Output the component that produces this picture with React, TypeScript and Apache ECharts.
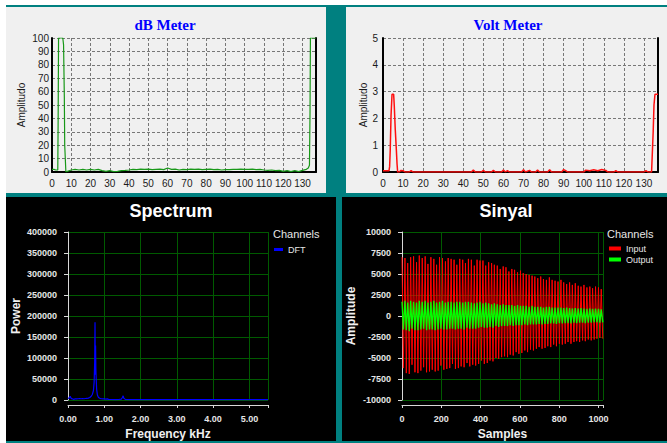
import React, { useEffect, useRef } from "react";
import * as echarts from "echarts";

// ---------- data ----------
const dbMeterPoints: [number, number][] = [
  [0, 2], [1, 2], [2, 1.5], [3, 1.5], [3.2, 42], [3.4, 100], [5.6, 100], [6.0, 95], [6.4, 56], [6.6, 20], [7.2, 0],
  [8, 0.5], [10, 1.5], [12, 2], [14, 1.5], [16, 2], [18, 1.5], [20, 2], [22, 1.5], [24, 2], [26, 1], [28, 0.5],
  [30, 1], [32, 0.3], [34, 0.5], [36, 1], [38, 1.2], [40, 1.5], [42, 2], [44, 1.8], [46, 2.2], [48, 2], [50, 2.2],
  [52, 1.8], [54, 2], [56, 2.2], [58, 1.8], [60, 3], [62, 2], [64, 2.2], [66, 1.5], [68, 2], [70, 1.8], [72, 2.2],
  [74, 2], [76, 2.2], [78, 1.8], [80, 2], [82, 2.2], [84, 1.8], [86, 2], [88, 1.5], [90, 1.8], [92, 1.8], [94, 2],
  [96, 2], [98, 2.2], [100, 2], [102, 2], [104, 2.2], [106, 1.8], [108, 2], [110, 1.5], [112, 1.2], [114, 1.5],
  [116, 1], [118, 1.2], [120, 0.5], [122, 1], [124, 0.3], [126, 1], [128, 0.3], [130, 1.2], [132, 2], [133, 3],
  [133.6, 5], [133.9, 45], [134.1, 100], [137, 100],
];

const voltMeterPoints: [number, number][] = [
  [0, 0.05], [3.0, 0.05], [3.3, 0.2], [3.6, 0.8], [4.0, 2.1], [4.5, 2.9], [5.3, 2.9], [5.6, 2.5], [6.1, 1.6],
  [6.6, 0.9], [7.0, 0.3], [7.3, 0], [8, 0], [9, 0.06], [10, 0.05], [11, 0], [13, 0], [14, 0.05], [15, 0],
  [44, 0], [45, 0.07], [46, 0], [49, 0], [50, 0.06], [51, 0], [54, 0], [55, 0.06], [56, 0], [59, 0], [60, 0.07],
  [61, 0], [62, 0.05], [63, 0], [69, 0], [70, 0.08], [71, 0], [73, 0.06], [74, 0], [76, 0], [77, 0.07], [78, 0],
  [82, 0], [83, 0.08], [84, 0], [89, 0], [90, 0.09], [91, 0.05], [92, 0], [100, 0], [101, 0.07], [103, 0.05],
  [105, 0.08], [107, 0.05], [109, 0.09], [111, 0.06], [112, 0], [115, 0], [116, 0.05], [117, 0], [130, 0],
  [131, 0.05], [132, 0], [133.8, 0], [134.6, 1.5], [135, 2.5], [135.5, 2.9], [137, 2.9],
];

const spectrumPoints: [number, number][] = [
  [0, 3000], [0.02, 4500], [0.04, 6000], [0.06, 9000], [0.08, 5000], [0.1, 3000], [0.13, 2500], [0.16, 1500],
  [0.2, 3000], [0.24, 2500], [0.28, 3000], [0.32, 3500], [0.36, 3000], [0.4, 3500], [0.44, 3000], [0.48, 3500],
  [0.52, 4000], [0.56, 4500], [0.6, 6000], [0.64, 9000], [0.67, 13000], [0.7, 22000], [0.72, 42000],
  [0.735, 90000], [0.745, 185000], [0.752, 60000], [0.76, 130000], [0.768, 75000], [0.778, 48000],
  [0.79, 25000], [0.81, 12000], [0.84, 6000], [0.88, 4000], [0.92, 3000], [0.96, 2500], [1.0, 3000],
  [1.04, 2000], [1.08, 2500], [1.12, 1500], [1.2, 1200], [1.3, 1000], [1.4, 1200], [1.47, 2000], [1.5, 6000],
  [1.52, 10000], [1.54, 4000], [1.58, 1500], [1.7, 1000], [2.0, 900], [2.5, 800], [3.0, 800], [3.5, 800],
  [4.0, 800], [4.5, 800], [5.0, 800], [5.5125, 800],
];

const sinyalSamples: number[] = [
  0, 7, 15, 22, 29, 37, 44, 51, 59, 66,
  74, 81, 88, 96, 103, 110, 118, 125, 132, 140,
  147, 154, 162, 169, 176, 184, 191, 198, 206, 213,
  221, 228, 235, 243, 250, 257, 265, 272, 279, 287,
  294, 301, 309, 316, 323, 331, 338, 345, 353, 360,
  368, 375, 382, 390, 397, 404, 412, 419, 426, 434,
  441, 448, 456, 463, 470, 478, 485, 492, 500, 507,
  515, 522, 529, 537, 544, 551, 559, 566, 573, 581,
  588, 595, 603, 610, 617, 625, 632, 639, 647, 654,
  662, 669, 676, 684, 691, 698, 706, 713, 720, 728,
  735, 742, 750, 757, 764, 772, 779, 786, 794, 801,
  809, 816, 823, 831, 838, 845, 853, 860, 867, 875,
  882, 889, 897, 904, 911, 919, 926, 933, 941, 948,
  956, 963, 970, 978, 985, 992, 1000, 1007, 1014, 1022,
];

const sinyalInput: number[] = [
  7000, -6200, 6900, -6800, 6300, -6900, 7000, -5800, 7100, -6700,
  6400, -6800, 7200, -6500, 6900, -6100, 7100, -6700, 6200, -6600,
  7000, -6400, 6800, -6600, 6100, -6500, 7000, -5900, 6900, -6400,
  6500, -6300, 6900, -6200, 6800, -5700, 6700, -6300, 6100, -6200,
  6800, -6000, 6700, -6100, 6300, -5600, 6800, -6000, 6700, -5800,
  6000, -5900, 6700, -5700, 6600, -5300, 6600, -5700, 6000, -5600,
  6400, -5300, 6300, -5400, 6100, -5000, 6000, -5100, 5600, -4900,
  5900, -4800, 5800, -4900, 5300, -4600, 5600, -4700, 5500, -4300,
  5200, -4500, 5400, -4400, 5100, -4100, 5000, -4300, 4900, -4000,
  4800, -4100, 4700, -3900, 4500, -3700, 4700, -3900, 4400, -3800,
  4300, -3600, 4600, -3700, 4300, -3400, 4200, -3600, 4100, -3300,
  4300, -3400, 4000, -3300, 3800, -3100, 4000, -3300, 3700, -3100,
  3900, -3000, 3600, -3100, 3500, -2900, 3700, -3000, 3400, -2800,
  3500, -2900, 3300, -2800, 3500, -2700, 3400, -2600, 3200, -2700,
];

const sinyalOutput: number[] = [
  1700, -1600, 1800, -1700, 1600, -1800, 1800, -1500, 1700, -1700,
  1600, -1700, 1800, -1600, 1700, -1500, 1800, -1700, 1600, -1600,
  1700, -1600, 1800, -1700, 1600, -1600, 1700, -1500, 1800, -1600,
  1600, -1600, 1700, -1500, 1700, -1500, 1600, -1600, 1700, -1500,
  1700, -1500, 1600, -1600, 1700, -1400, 1700, -1500, 1600, -1500,
  1500, -1500, 1600, -1400, 1700, -1300, 1500, -1400, 1600, -1400,
  1500, -1300, 1400, -1400, 1500, -1200, 1400, -1300, 1300, -1200,
  1400, -1200, 1300, -1200, 1300, -1100, 1300, -1200, 1200, -1100,
  1300, -1100, 1200, -1100, 1200, -1000, 1200, -1100, 1100, -1000,
  1200, -1000, 1100, -1000, 1100, -950, 1100, -1000, 1000, -950,
  1100, -950, 1100, -900, 1000, -900, 1000, -950, 1000, -850,
  1000, -900, 950, -850, 1000, -850, 950, -900, 900, -800,
  950, -850, 900, -800, 950, -800, 900, -850, 850, -800,
  900, -800, 850, -750, 900, -750, 850, -800, 800, -750,
];

const titles = ["dB Meter", "Volt Meter", "Spectrum", "Sinyal"];

// ---------- styles ----------
const SANS = "'Liberation Sans', Arial, sans-serif";
const SERIF = "'Liberation Serif', 'Times New Roman', serif";
const TEAL = "#008080";
const PANEL = "#f0f0f0";

export default function App() {
  const ref = useRef<HTMLDivElement>(null);

  useEffect(() => {
    document.body.style.margin = "0";
    const chart = echarts.init(ref.current!, undefined, { renderer: "svg" });

    const plain = (v: number) => String(v);
    const topLabel = { color: "#1a1a1a", fontSize: 10, fontFamily: SANS };
    const dashed = { show: true, lineStyle: { color: "#777", type: [3, 2], width: 1 } };
    const blackLine = { show: true, onZero: false, lineStyle: { color: "#000", width: 2 } };
    const botLabel = { color: "#e6e6e6", fontSize: 9, fontWeight: "bold", fontFamily: SANS };
    const greenSplit = { show: true, lineStyle: { color: "#005a00", width: 1 } };
    const whiteLine = { show: true, onZero: false, lineStyle: { color: "#d8d8d8", width: 1 } };
    const whiteTick = { show: true, length: 4, lineStyle: { color: "#d8d8d8" } };
    const botName = { color: "#f0f0f0", fontSize: 12, fontWeight: "bold", fontFamily: SANS };
    const topName = { color: "#1a1a1a", fontSize: 10, fontFamily: SANS };

    const frameAxis = (gridIndex: number) => ({
      gridIndex,
      type: "value",
      position: "right",
      min: 0,
      max: 1,
      axisLine: blackLine,
      axisTick: { show: false },
      axisLabel: { show: false },
      splitLine: { show: false },
    });

    chart.setOption({
      animation: false,
      grid: [
        { left: 52, top: 38, width: 264, height: 134 },
        { left: 383, top: 38, width: 275, height: 134 },
        { left: 68, top: 232, width: 200, height: 168 },
        { left: 402, top: 232, width: 201, height: 168 },
      ],
      xAxis: [
        {
          gridIndex: 0, type: "value", min: 0, max: 137, interval: 10,
          axisLine: blackLine, axisTick: { show: false }, splitLine: dashed,
          axisLabel: { ...topLabel, margin: 6, formatter: (v: number) => (v % 10 === 0 ? String(v) : "") },
        },
        {
          gridIndex: 1, type: "value", min: 0, max: 137, interval: 10,
          axisLine: blackLine, axisTick: { show: false }, splitLine: dashed,
          axisLabel: { ...topLabel, margin: 6, formatter: (v: number) => (v % 10 === 0 ? String(v) : "") },
        },
        {
          gridIndex: 2, type: "value", min: 0, max: 5.5125, interval: 1, offset: 5,
          axisLine: whiteLine, axisTick: { ...whiteTick, length: 3 }, splitLine: greenSplit,
          axisLabel: {
            ...botLabel, margin: 9,
            formatter: (v: number) => (Math.abs(v - Math.round(v)) < 1e-6 ? v.toFixed(2) : ""),
          },
          name: "Frequency kHz", nameLocation: "middle", nameGap: 23, nameTextStyle: botName,
        },
        {
          gridIndex: 3, type: "value", min: 0, max: 1023, interval: 200, offset: 5, z: 3,
          axisLine: whiteLine, axisTick: { ...whiteTick, length: 3 }, splitLine: greenSplit,
          axisLabel: { ...botLabel, margin: 9, formatter: (v: number) => (v % 200 === 0 ? String(v) : "") },
          name: "Samples", nameLocation: "middle", nameGap: 23, nameTextStyle: botName,
        },
      ],
      yAxis: [
        {
          gridIndex: 0, type: "value", min: 0, max: 100, interval: 10,
          axisLine: blackLine, axisTick: { show: false }, splitLine: dashed,
          axisLabel: { ...topLabel, margin: 3, formatter: plain },
          name: "Amplitudo", nameLocation: "middle", nameGap: 26, nameRotate: 90, nameTextStyle: topName,
        },
        {
          gridIndex: 1, type: "value", min: 0, max: 5, interval: 1,
          axisLine: blackLine, axisTick: { show: false }, splitLine: dashed,
          axisLabel: { ...topLabel, margin: 5, formatter: plain },
          name: "Amplitudo", nameLocation: "middle", nameGap: 15, nameRotate: 90, nameTextStyle: topName,
        },
        {
          gridIndex: 2, type: "value", min: 0, max: 400000, interval: 50000,
          axisLine: whiteLine, axisTick: whiteTick, splitLine: greenSplit,
          axisLabel: { ...botLabel, margin: 11, formatter: plain },
          name: "Power", nameLocation: "middle", nameGap: 46, nameRotate: 90, nameTextStyle: botName,
        },
        {
          gridIndex: 3, type: "value", min: -10000, max: 10000, interval: 2500, z: 3,
          axisLine: whiteLine, axisTick: whiteTick, splitLine: greenSplit,
          axisLabel: { ...botLabel, margin: 11, formatter: plain },
          name: "Amplitude", nameLocation: "middle", nameGap: 45, nameRotate: 90, nameTextStyle: botName,
        },
        frameAxis(0),
        frameAxis(1),
      ],
      legend: [
        {
          data: ["DFT"], orient: "vertical", left: 274, top: 245, padding: 0, icon: "rect",
          itemWidth: 9, itemHeight: 3, itemGap: 2, selectedMode: false,
          textStyle: { color: "#e6e6e6", fontSize: 9, fontFamily: SANS },
        },
        {
          data: ["Input", "Output"], orient: "vertical", left: 609, top: 244, padding: 0, icon: "rect",
          itemWidth: 12, itemHeight: 4, itemGap: 2, selectedMode: false,
          textStyle: { color: "#e6e6e6", fontSize: 9, fontFamily: SANS },
        },
      ],
      graphic: [
        {
          type: "text", x: 165, y: 25,
          style: { text: titles[0], fill: "#0000ff", fontSize: 15, fontWeight: "bold", fontFamily: SERIF, align: "center", verticalAlign: "middle", textAlign: "center", textVerticalAlign: "middle" },
        },
        {
          type: "text", x: 508, y: 25,
          style: { text: titles[1], fill: "#0000ff", fontSize: 15, fontWeight: "bold", fontFamily: SERIF, align: "center", verticalAlign: "middle", textAlign: "center", textVerticalAlign: "middle" },
        },
        {
          type: "text", x: 171, y: 211,
          style: { text: titles[2], fill: "#ffffff", fontSize: 18, fontWeight: "bold", fontFamily: SANS, align: "center", verticalAlign: "middle", textAlign: "center", textVerticalAlign: "middle" },
        },
        {
          type: "text", x: 506, y: 211,
          style: { text: titles[3], fill: "#ffffff", fontSize: 18, fontWeight: "bold", fontFamily: SANS, align: "center", verticalAlign: "middle", textAlign: "center", textVerticalAlign: "middle" },
        },
        {
          type: "text", x: 273, y: 234,
          style: { text: "Channels", fill: "#e6e6e6", fontSize: 11, fontFamily: SANS, align: "left", verticalAlign: "middle", textAlign: "left", textVerticalAlign: "middle" },
        },
        {
          type: "text", x: 607, y: 234,
          style: { text: "Channels", fill: "#e6e6e6", fontSize: 11, fontFamily: SANS, align: "left", verticalAlign: "middle", textAlign: "left", textVerticalAlign: "middle" },
        },
      ],
      series: [
        {
          name: "dB", type: "line", xAxisIndex: 0, yAxisIndex: 0, data: dbMeterPoints,
          showSymbol: false, lineStyle: { color: "#189818", width: 1.2 }, itemStyle: { color: "#189818" },
        },
        {
          name: "Volt", type: "line", xAxisIndex: 1, yAxisIndex: 1, data: voltMeterPoints,
          showSymbol: false, lineStyle: { color: "#ff1010", width: 1.5 }, itemStyle: { color: "#ff1010" },
        },
        {
          name: "DFT", type: "line", xAxisIndex: 2, yAxisIndex: 2, data: spectrumPoints,
          showSymbol: false, lineStyle: { color: "#0000ff", width: 1.2 }, itemStyle: { color: "#0000ff" },
        },
        {
          name: "Input", type: "line", xAxisIndex: 3, yAxisIndex: 3,
          data: sinyalSamples.map((s, i) => [s, sinyalInput[i]]),
          showSymbol: false, lineStyle: { color: "#ff0000", width: 1 }, itemStyle: { color: "#ff0000" },
        },
        {
          name: "Output", type: "line", xAxisIndex: 3, yAxisIndex: 3,
          data: sinyalSamples.map((s, i) => [s, sinyalOutput[i]]),
          showSymbol: false, lineStyle: { color: "#00ff00", width: 1.3 }, itemStyle: { color: "#00ff00" },
        },
      ],
    });

    return () => chart.dispose();
  }, []);

  const box = (left: number, top: number, width: number, height: number, bg: string): React.CSSProperties => ({
    position: "absolute", left, top, width, height, background: bg,
  });

  return (
    <div style={{ position: "absolute", left: 0, top: 0, width: 667, height: 443, background: "#ffffff", overflow: "hidden" }}>
      <div style={box(6, 5, 661, 438, TEAL)} />
      <div style={box(6, 7, 320, 186, PANEL)} />
      <div style={box(346, 7, 321, 186, PANEL)} />
      <div style={box(6, 197, 330, 244, "#000000")} />
      <div style={box(342, 197, 325, 244, "#000000")} />
      <div ref={ref} style={{ position: "absolute", left: 0, top: 0, width: 667, height: 443 }} />
    </div>
  );
}
